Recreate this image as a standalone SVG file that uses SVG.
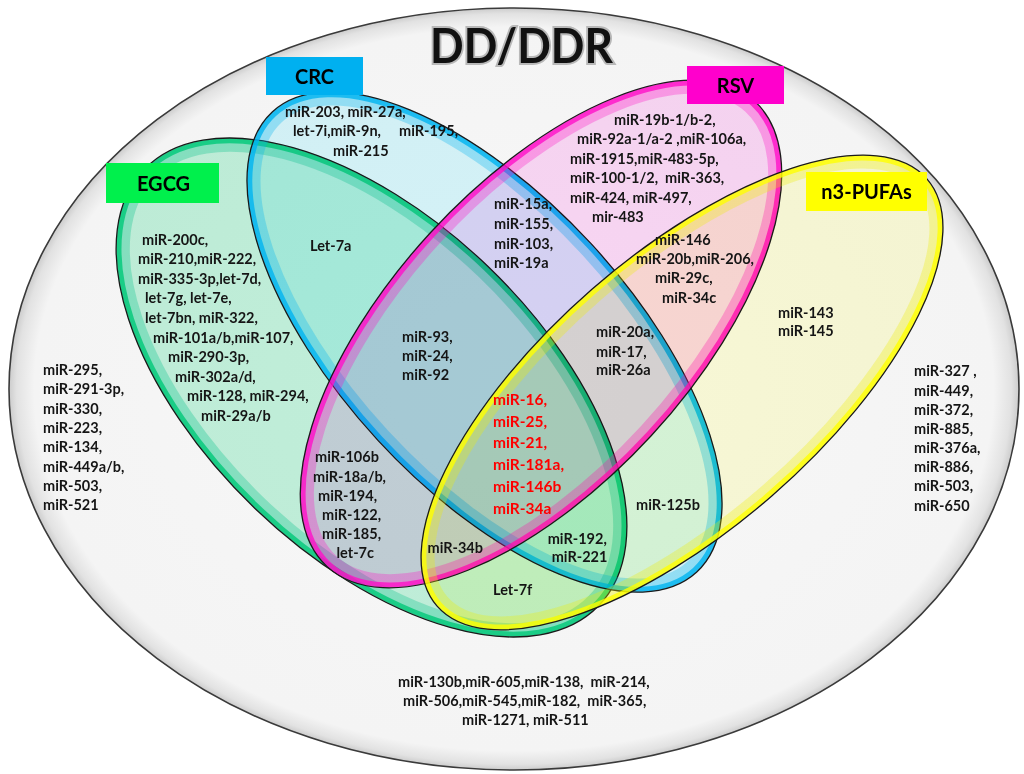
<svg xmlns="http://www.w3.org/2000/svg" width="1024" height="774" viewBox="0 0 1024 774">
<defs>
<radialGradient id="bg" cx="0.5" cy="0.5" r="0.5">
<stop offset="0" stop-color="#f8f8f8"/>
<stop offset="0.95" stop-color="#f4f4f4"/>
<stop offset="0.985" stop-color="#e2e2e2"/>
<stop offset="1" stop-color="#cccccc"/>
</radialGradient>
<style>
.t{font-family:Lato,'Open Sans','Liberation Sans',sans-serif;font-weight:700;font-size:14.5px;fill:#151515;white-space:pre}
.r{font-size:15.5px;fill:#ff0000}
.lab{font-size:20px;text-anchor:middle;fill:#000}
.fill{mix-blend-mode:multiply}
.edge{fill:none;stroke:#1a1a1a;stroke-width:1.3}
.glow{fill:none;stroke-width:14;opacity:0.3}
.band{fill:none;stroke-width:5;opacity:0.8}
</style>
</defs>
<rect width="1024" height="774" fill="#ffffff"/>
<g id="universe">
<ellipse cx="514" cy="389" rx="505" ry="381" fill="url(#bg)" stroke="#3a3a3a" stroke-width="1.6"/>
<text x="521.5" y="63" text-anchor="middle" textLength="183" lengthAdjust="spacingAndGlyphs" style="font-family:Lato,'Open Sans',sans-serif;font-weight:700;font-size:48px;fill:#111;stroke:#b8b8b8;stroke-width:4;paint-order:stroke">DD/DDR</text>
</g>
<g id="set-egcg">
<g transform="translate(371.5 387.5) rotate(43.8)">
<ellipse class="fill" rx="315" ry="168" fill="#c6f6e0"/>
<ellipse class="glow" rx="308" ry="161" stroke="#00c088"/>
<ellipse class="band" rx="312" ry="165" stroke="#00c878"/>
<ellipse class="edge" rx="315" ry="168"/>
</g>
</g>
<g id="set-crc">
<g transform="translate(484.5 342) rotate(47.3)">
<ellipse class="fill" rx="313" ry="145" fill="#dbfaff"/>
<ellipse class="glow" rx="306" ry="138" stroke="#00b4f0"/>
<ellipse class="band" rx="310" ry="142" stroke="#00b4f0"/>
<ellipse class="edge" rx="313" ry="145"/>
</g>
</g>
<g id="set-rsv">
<g transform="translate(541 334) rotate(-47.4)">
<ellipse class="fill" rx="316" ry="150" fill="#ffdcfa"/>
<ellipse class="glow" rx="309" ry="143" stroke="#ff10c8"/>
<ellipse class="band" rx="313" ry="147" stroke="#ff10c8"/>
<ellipse class="edge" rx="316" ry="150"/>
</g>
</g>
<g id="set-n3pufas">
<g transform="translate(682 392.5) rotate(-41.1)">
<ellipse class="fill" rx="325" ry="137" fill="#ffffdc"/>
<ellipse class="glow" rx="318" ry="130" stroke="#f0f000"/>
<ellipse class="band" rx="322" ry="134" stroke="#ffff00"/>
<ellipse class="edge" rx="325" ry="137"/>
</g>
</g>
<g id="label-crc">
<rect x="266" y="57" width="97" height="38" fill="#00b0f0"/>
<text class="t lab" x="314.5" y="84">CRC</text>
</g>
<g id="label-rsv">
<rect x="687" y="66" width="97" height="38" fill="#ff00cc"/>
<text class="t lab" x="735.5" y="93">RSV</text>
</g>
<g id="label-egcg">
<rect x="106" y="163" width="113" height="40" fill="#00f04c"/>
<text class="t lab" x="163.5" y="191">EGCG</text>
</g>
<g id="label-n3pufas">
<rect x="806" y="172" width="121" height="39" fill="#ffff00"/>
<text class="t lab" x="866.5" y="199">n3-PUFAs</text>
</g>
<g id="connectors"/>
<g id="region-texts">
<text class="t"><tspan x="285" y="117">miR-203, miR-27a,</tspan><tspan x="293" y="136">let-7i,miR-9n,</tspan><tspan x="399" y="136">miR-195,</tspan><tspan x="333" y="156">miR-215</tspan></text>
<text class="t"><tspan x="614" y="125">miR-19b-1/b-2,</tspan><tspan x="577" y="144">miR-92a-1/a-2 ,miR-106a,</tspan><tspan x="570" y="163.5">miR-1915,miR-483-5p,</tspan><tspan x="570" y="183">miR-100-1/2,  miR-363,</tspan><tspan x="570" y="202.5">miR-424, miR-497,</tspan><tspan x="592" y="222">mir-483</tspan></text>
<text class="t"><tspan x="142" y="244.5">miR-200c,</tspan><tspan x="138" y="264">miR-210,miR-222,</tspan><tspan x="138" y="283.7">miR-335-3p,let-7d,</tspan><tspan x="145" y="303.3">let-7g, let-7e,</tspan><tspan x="145" y="323">let-7bn, miR-322,</tspan><tspan x="153" y="342.5">miR-101a/b,miR-107,</tspan><tspan x="168" y="362">miR-290-3p,</tspan><tspan x="175" y="381.7">miR-302a/d,</tspan><tspan x="187" y="401.3">miR-128, miR-294,</tspan><tspan x="201" y="421">miR-29a/b</tspan></text>
<text class="t" x="310" y="251">Let-7a</text>
<text class="t"><tspan x="494" y="209">miR-15a,</tspan><tspan x="494" y="229">miR-155,</tspan><tspan x="494" y="248.5">miR-103,</tspan><tspan x="494" y="268">miR-19a</tspan></text>
<text class="t"><tspan x="655" y="245">miR-146</tspan><tspan x="636" y="264.3">miR-20b,miR-206,</tspan><tspan x="655" y="283.3">miR-29c,</tspan><tspan x="662" y="302.7">miR-34c</tspan></text>
<text class="t"><tspan x="778" y="317.7">miR-143</tspan><tspan x="778" y="336">miR-145</tspan></text>
<text class="t"><tspan x="596" y="337.3">miR-20a,</tspan><tspan x="596" y="356.7">miR-17,</tspan><tspan x="596" y="375.3">miR-26a</tspan></text>
<text class="t"><tspan x="402" y="342">miR-93,</tspan><tspan x="402" y="361">miR-24,</tspan><tspan x="402" y="380">miR-92</tspan></text>
<text class="t r"><tspan x="493" y="405">miR-16,</tspan><tspan x="493" y="426.5">miR-25,</tspan><tspan x="493" y="448">miR-21,</tspan><tspan x="493" y="470">miR-181a,</tspan><tspan x="493" y="492">miR-146b</tspan><tspan x="493" y="514">miR-34a</tspan></text>
<text class="t"><tspan x="315" y="462">miR-106b</tspan><tspan x="313" y="481.5">miR-18a/b,</tspan><tspan x="318" y="500.5">miR-194,</tspan><tspan x="322" y="519.5">miR-122,</tspan><tspan x="322" y="538.5">miR-185,</tspan><tspan x="336.5" y="557.5">let-7c</tspan></text>
<text class="t" x="427.5" y="552.7">miR-34b</text>
<text class="t"><tspan x="547.7" y="544">miR-192,</tspan><tspan x="551.7" y="561.7">miR-221</tspan></text>
<text class="t" x="493" y="595">Let-7f</text>
<text class="t" x="636" y="510">miR-125b</text>
<text class="t"><tspan x="43" y="375">miR-295,</tspan><tspan x="43" y="394.3">miR-291-3p,</tspan><tspan x="43" y="413.6">miR-330,</tspan><tspan x="43" y="433">miR-223,</tspan><tspan x="43" y="452.2">miR-134,</tspan><tspan x="43" y="471.5">miR-449a/b,</tspan><tspan x="43" y="490.8">miR-503,</tspan><tspan x="43" y="510">miR-521</tspan></text>
<text class="t"><tspan x="914" y="376">miR-327 ,</tspan><tspan x="914" y="395.5">miR-449,</tspan><tspan x="914" y="414.5">miR-372,</tspan><tspan x="914" y="433.5">miR-885,</tspan><tspan x="914" y="453">miR-376a,</tspan><tspan x="914" y="472">miR-886,</tspan><tspan x="914" y="491">miR-503,</tspan><tspan x="914" y="510.5">miR-650</tspan></text>
<text class="t"><tspan x="398" y="686.7">miR-130b,miR-605,miR-138,  miR-214,</tspan><tspan x="403" y="705.7">miR-506,miR-545,miR-182,  miR-365,</tspan><tspan x="462" y="725">miR-1271, miR-511</tspan></text>
</g>
</svg>
